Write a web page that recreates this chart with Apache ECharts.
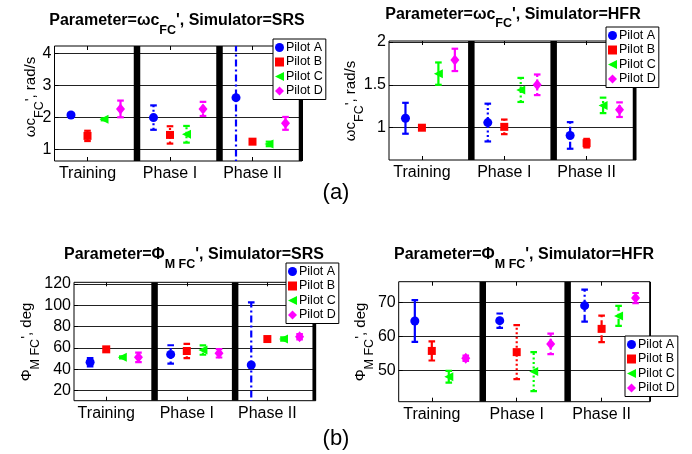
<!DOCTYPE html>
<html><head><meta charset="utf-8">
<script src="https://cdn.jsdelivr.net/npm/echarts@6/dist/echarts.min.js"></script>
<style>html,body{margin:0;padding:0;background:#fff}#c{width:692px;height:454px}</style>
</head><body><div id="c"></div>
<script>
// ---------- data ----------
const phases = ['Training', 'Phase I', 'Phase II'];
const pilots = ['Pilot A', 'Pilot B', 'Pilot C', 'Pilot D'];
const phaseTickPos = [2, 7, 12];
const separators = [5, 10, 15];

// rows: phase (Training, Phase I, Phase II); columns: Pilot A..D
const srsWcMean = [[2.08, 1.43, 1.945, 2.27], [2.00, 1.46, 1.48, 2.27], [2.62, 1.25, 1.18, 1.82]];
const srsWcErr  = [[0.06, 0.16, 0.03, 0.26], [0.38, 0.27, 0.26, 0.22], [2.30, 0.07, 0.07, 0.20]];
const hfrWcMean = [[1.11, 1.00, 1.63, 1.79], [1.06, 1.01, 1.44, 1.50], [0.91, 0.82, 1.26, 1.21]];
const hfrWcErr  = [[0.18, 0.015, 0.13, 0.13], [0.22, 0.085, 0.14, 0.12], [0.155, 0.05, 0.09, 0.085]];
const srsPhiMean = [[46.6, 58.75, 51.25, 51.25], [54.0, 57.2, 58.1, 55.0], [44.1, 68.4, 68.4, 70.6]];
const srsPhiErr  = [[3.9, 2.0, 1.0, 4.5], [8.6, 6.7, 4.4, 3.9], [58.7, 1.5, 1.5, 2.5]];
const hfrPhiMean = [[64.5, 55.75, 48.2, 53.6], [64.6, 55.4, 49.7, 57.8], [69.0, 62.2, 66.0, 71.2]];
const hfrPhiErr  = [[6.1, 2.8, 1.7, 0.8], [2.1, 7.9, 5.7, 3.0], [4.7, 3.9, 2.9, 1.5]];

const srsWcTicks = [1, 2, 3, 4];
const hfrWcTicks = [1, 1.5, 2];
const srsPhiTicks = [20, 40, 60, 80, 100, 120];
const hfrPhiTicks = [50, 60, 70];

// ---------- styling / layout ----------
const FONT = 'Liberation Sans, Arial, sans-serif';
const colors = ['#0000ff', '#ff0000', '#00ff00', '#ff00ff'];
const symbols = ['circle', 'rect', 'path://M0,5L10,0L10,10Z', 'diamond'];
const symbolSizes = [9, 8, [9, 9], [9, 11]];
const phaseDash = [null, [2, 2.5], [7, 3, 2, 3]];

const panels = [
  { mean: srsWcMean, err: srsWcErr, ticks: srsWcTicks, grid: { left: 54.5, top: 46, width: 247.5, height: 115 }, ymin: 0.648, ymax: 4.23, xmin: 0, xmax: 15,
    legend: { left: 273, top: 39 } },
  { mean: hfrWcMean, err: hfrWcErr, ticks: hfrWcTicks, grid: { left: 389, top: 41, width: 247, height: 119 }, ymin: 0.624, ymax: 2.01, xmin: 0, xmax: 15,
    legend: { left: 606, top: 27 } },
  { mean: srsPhiMean, err: srsPhiErr, ticks: srsPhiTicks, grid: { left: 74, top: 282.3, width: 241.7, height: 118.4 }, ymin: 10.6, ymax: 121.6, xmin: 0, xmax: 15,
    legend: { left: 286, top: 263 } },
  { mean: hfrPhiMean, err: hfrPhiErr, ticks: hfrPhiTicks, grid: { left: 398.7, top: 281.7, width: 251.3, height: 120 }, ymin: 40.9, ymax: 76, xmin: 0.05, xmax: 14.85,
    legend: { left: 625, top: 336 } }
];

const grids = [], xAxes = [], yAxes = [], series = [], legends = [];

panels.forEach((p, k) => {
  grids.push(Object.assign({ show: true, borderColor: '#000', borderWidth: 1, backgroundColor: 'transparent', containLabel: false }, p.grid));
  xAxes.push({
    type: 'value', gridIndex: k, min: p.xmin, max: p.xmax, position: 'bottom',
    axisLine: { show: false },
    axisTick: { show: true, inside: true, length: 4, customValues: phaseTickPos, lineStyle: { color: '#000' } },
    axisLabel: { customValues: phaseTickPos, formatter: v => phases[phaseTickPos.indexOf(Math.round(v))] || '',
      fontSize: 16, color: '#000', fontFamily: FONT, margin: 5 },
    splitLine: { show: false }
  });
  xAxes.push({
    type: 'value', gridIndex: k, min: p.xmin, max: p.xmax, position: 'top',
    axisLine: { show: false },
    axisTick: { show: true, inside: true, length: 4, customValues: phaseTickPos, lineStyle: { color: '#000' } },
    axisLabel: { show: false }, splitLine: { show: false }
  });
  yAxes.push({
    type: 'value', gridIndex: k, min: p.ymin, max: p.ymax,
    axisLine: { show: false },
    axisTick: { show: true, inside: true, length: 4, customValues: p.ticks, lineStyle: { color: '#000' } },
    axisLabel: { customValues: p.ticks, fontSize: 16, color: '#000', fontFamily: FONT, margin: 3 },
    splitLine: { show: true, lineStyle: { color: '#222', width: 1 } }
  });
  const xIdx = k * 2;
  series.push({
    type: 'custom', xAxisIndex: xIdx, yAxisIndex: k, clip: true, z: 2, silent: true,
    data: separators.map(x => [x]),
    renderItem: (params, api) => {
      const cs = params.coordSys;
      const px = api.coord([api.value(0), p.ymin])[0];
      return { type: 'line', shape: { x1: px, y1: cs.y, x2: px, y2: cs.y + cs.height }, style: { stroke: '#000', lineWidth: 6.5 } };
    }
  });
  pilots.forEach((name, i) => {
    const col = colors[i];
    series.push({
      type: 'custom', xAxisIndex: xIdx, yAxisIndex: k, clip: true, z: 3, silent: true,
      data: phases.map((ph, g) => [g * 5 + i + 1, p.mean[g][i] - p.err[g][i], p.mean[g][i] + p.err[g][i], g]),
      renderItem: (params, api) => {
        const x = api.value(0), lo = api.value(1), hi = api.value(2), g = api.value(3);
        const a = api.coord([x, lo]), b = api.coord([x, hi]);
        const cap = 3.3;
        return { type: 'group', children: [
          { type: 'line', shape: { x1: a[0], y1: a[1], x2: b[0], y2: b[1] }, style: { stroke: col, lineWidth: 2.2, lineDash: phaseDash[g] } },
          { type: 'line', shape: { x1: a[0] - cap, y1: a[1], x2: a[0] + cap, y2: a[1] }, style: { stroke: col, lineWidth: 2.2 } },
          { type: 'line', shape: { x1: b[0] - cap, y1: b[1], x2: b[0] + cap, y2: b[1] }, style: { stroke: col, lineWidth: 2.2 } }
        ] };
      }
    });
    series.push({
      type: 'scatter', name: name, xAxisIndex: xIdx, yAxisIndex: k, z: 4, silent: true,
      symbol: symbols[i], symbolSize: symbolSizes[i],
      itemStyle: { color: col, opacity: 1 },
      data: phases.map((ph, g) => [g * 5 + i + 1, p.mean[g][i]])
    });
  });
  legends.push({
    left: p.legend.left, top: p.legend.top, orient: 'vertical', data: pilots, selectedMode: false,
    backgroundColor: '#fff', borderColor: '#000', borderWidth: 1, padding: [2, 3, 2, 2],
    itemWidth: 9, itemHeight: 9, itemGap: 1.5, z: 10,
    textStyle: { fontSize: 12.5, color: '#000', fontFamily: FONT, lineHeight: 13, padding: [0, 0, 0, -3] }
  });
});

// ---------- text with subscripts ----------
function richStyles(size, subSize, bold, subDrop) {
  const w = bold ? 'bold' : 'normal';
  return {
    m: { fontSize: size, fontWeight: w, fontFamily: FONT, verticalAlign: 'top', fill: '#000' },
    s: { fontSize: subSize, fontWeight: w, fontFamily: FONT, verticalAlign: 'top', fill: '#000', padding: [subDrop, 0, 0, 0] }
  };
}
const titles = [
  { text: "{m|Parameter=ωc}{s|FC}{m|', Simulator=SRS}", cx: 177, cy: 20.8 },
  { text: "{m|Parameter=ωc}{s|FC}{m|', Simulator=HFR}", cx: 513, cy: 14.3 },
  { text: "{m|Parameter=Φ}{s|M FC}{m|', Simulator=SRS}", cx: 194, cy: 255 },
  { text: "{m|Parameter=Φ}{s|M FC}{m|', Simulator=HFR}", cx: 524, cy: 255 }
];
const yNames = [
  { text: "{m|ωc}{s|FC}{m|', rad/s}", cx: 30.5, cy: 97 },
  { text: "{m|ωc}{s|FC}{m|', rad/s}", cx: 350.5, cy: 101 },
  { text: "{m|Φ}{s|M FC}{m|', deg}", cx: 27, cy: 342 },
  { text: "{m|Φ}{s|M FC}{m|', deg}", cx: 361, cy: 342 }
];
const graphics = [];
titles.forEach(t => graphics.push({ type: 'text', x: t.cx, y: t.cy - 8, z: 20,
  style: { text: t.text, rich: richStyles(16, 12.5, true, 11), align: 'center', verticalAlign: 'top', fontFamily: FONT } }));
yNames.forEach(t => graphics.push({ type: 'text', x: t.cx - 7.5, y: t.cy, rotation: Math.PI / 2, z: 20,
  style: { text: t.text, rich: richStyles(15, 12.5, false, 10), align: 'center', verticalAlign: 'top', fontFamily: FONT } }));
graphics.push({ type: 'text', x: 336, y: 193, z: 20, style: { text: '(a)', fontSize: 22, fontFamily: FONT, fill: '#000', align: 'center', verticalAlign: 'middle' } });
graphics.push({ type: 'text', x: 336, y: 439, z: 20, style: { text: '(b)', fontSize: 22, fontFamily: FONT, fill: '#000', align: 'center', verticalAlign: 'middle' } });

const chart = echarts.init(document.getElementById('c'), null, { renderer: 'canvas' });
chart.setOption({
  animation: false,
  backgroundColor: '#fff',
  grid: grids, xAxis: xAxes, yAxis: yAxes, series: series, legend: legends, graphic: graphics
});
</script></body></html>
